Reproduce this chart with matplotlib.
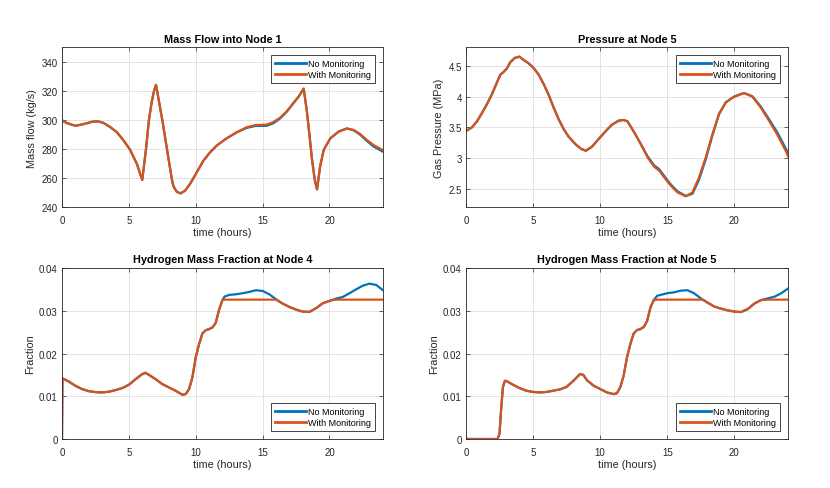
import matplotlib
matplotlib.use("Agg")
import matplotlib.pyplot as plt

plt.rcParams['font.family'] = ['Liberation Sans', 'DejaVu Sans']

# [1] mass flow into node 1
t1 = [0, 0.35, 1.0, 1.6, 2.3, 2.7, 3.1, 3.6, 4.1, 4.6, 5.1, 5.6, 6.0, 6.15, 6.28, 6.5,
      6.7, 6.88, 7.03, 7.5, 7.85, 8.2, 8.33, 8.58, 8.87, 9.2, 9.57, 10.07, 10.57,
      11.07, 11.56, 12.31, 13.06, 13.8, 14.5, 15.3, 15.8, 16.3, 16.8, 17.3, 17.7, 18.07,
      18.3, 18.5, 18.7, 18.9, 19.07, 19.3, 19.57, 20.07, 20.7, 21.3, 21.8, 22.3, 22.8,
      23.3, 24.0]
flow_with = [299.8, 298, 296, 297.2, 298.9, 299.1, 298, 295.2, 291.7, 286, 279.5, 269.8,
             258.8, 270, 280, 300, 312, 320, 324.2, 300, 280, 260, 254.5, 250.7,
             249.6, 251.4, 256, 264, 272, 277.8, 282.4, 287.4, 291.6, 295, 296.6, 296.8,
             298.6, 301.6, 306, 311.7, 316.2, 321.6, 306.9, 290, 272.5, 259, 252.3, 268,
             279.5, 287.5, 292.1, 294.2, 293.2, 290.4, 286.3, 282.8, 279.3]
flow_no = [299.8, 298, 296, 297.2, 298.9, 299.1, 298, 295.2, 291.7, 286, 279.5, 269.8,
           258.8, 270, 280, 300, 312, 320, 324.2, 300, 280, 260, 254.5, 250.7,
           249.6, 251.4, 256, 264, 272, 277.8, 282.4, 287.4, 291.5, 294.6, 296.0, 296.0,
           297.8, 301.0, 305.6, 311.5, 316.2, 321.6, 306.9, 290, 272.5, 259, 252.3, 268,
           279.5, 287.5, 292.1, 294.2, 293.0, 289.9, 285.6, 281.8, 278.2]

# [2] pressure at node 5
t2 = [0, 0.45, 0.82, 1.19, 1.57, 1.94, 2.31, 2.56, 2.81, 3.06, 3.3, 3.63, 3.98, 4.3,
      4.67, 5.04, 5.42, 5.79, 6.16, 6.53, 6.9, 7.28, 7.65, 8.15, 8.6, 8.94, 9.39, 9.89,
      10.38, 10.88, 11.38, 11.75, 12.04, 12.54, 13.03, 13.53, 14.03, 14.4, 14.77, 15.27,
      15.76, 16.38, 16.88, 17.37, 17.87, 18.37, 18.86, 19.36, 19.98, 20.72, 21.34, 21.96,
      22.58, 23.2, 23.87, 24]
pres_with = [3.44, 3.5, 3.597, 3.732, 3.878, 4.04, 4.23, 4.355, 4.40, 4.46, 4.556, 4.626,
             4.648, 4.594, 4.54, 4.464, 4.355, 4.203, 4.03, 3.824, 3.635, 3.472, 3.348,
             3.228, 3.147, 3.12, 3.185, 3.31, 3.43, 3.543, 3.608, 3.619, 3.597, 3.418,
             3.228, 3.012, 2.86, 2.795, 2.687, 2.551, 2.443, 2.378, 2.443, 2.687, 3.012,
             3.39, 3.716, 3.905, 3.998, 4.057, 3.998, 3.824, 3.608, 3.38, 3.10, 3.03]
pres_no = [3.44, 3.5, 3.597, 3.732, 3.878, 4.04, 4.23, 4.355, 4.40, 4.46, 4.556, 4.626,
           4.648, 4.594, 4.54, 4.464, 4.355, 4.203, 4.03, 3.824, 3.635, 3.472, 3.348,
           3.228, 3.147, 3.12, 3.185, 3.31, 3.43, 3.543, 3.608, 3.619, 3.597, 3.418,
           3.228, 3.03, 2.88, 2.82, 2.71, 2.57, 2.46, 2.385, 2.42, 2.65, 2.98,
           3.37, 3.716, 3.905, 3.998, 4.057, 4.005, 3.84, 3.635, 3.418, 3.14, 3.08]

# [3] hydrogen fraction at node 4
t3 = [0, 0.03, 0.5, 1, 1.5, 2, 2.5, 3, 3.5, 4, 4.5, 5, 5.5, 6, 6.25, 6.5, 7, 7.5, 8, 8.5,
      9, 9.25, 9.5, 9.75, 10, 10.25, 10.5, 10.75, 11, 11.25, 11.5, 11.75, 12, 12.15, 12.5,
      13, 13.5, 14, 14.5, 15, 15.5, 16, 16.5, 17, 17.5, 18, 18.5, 19, 19.5, 20, 20.3, 20.5,
      21, 21.5, 22, 22.5, 23, 23.5, 24]
h4_no = [0, 0.0142, 0.01346, 0.01245, 0.01167, 0.0112, 0.01097, 0.0109, 0.01105, 0.01144,
         0.0119, 0.01268, 0.0140, 0.01517, 0.01549, 0.0150, 0.0140, 0.01284, 0.01206,
         0.01128, 0.01035, 0.0105, 0.01167, 0.0144, 0.0191, 0.0222, 0.0247, 0.02545,
         0.0257, 0.0261, 0.0272, 0.0303, 0.0325, 0.0333, 0.0337, 0.03385, 0.0341, 0.0344,
         0.0348, 0.03463, 0.03385, 0.0327, 0.03167, 0.0309, 0.03027, 0.0298, 0.02973,
         0.0306, 0.03175, 0.0323, 0.0326, 0.03284, 0.03323, 0.0341, 0.03502, 0.03588,
         0.03634, 0.03603, 0.03479]
h4_with = [0, 0.0142, 0.01346, 0.01245, 0.01167, 0.0112, 0.01097, 0.0109, 0.01105, 0.01144,
           0.0119, 0.01268, 0.0140, 0.01517, 0.01549, 0.0150, 0.0140, 0.01284, 0.01206,
           0.01128, 0.01035, 0.0105, 0.01167, 0.0144, 0.0191, 0.0222, 0.0247, 0.02545,
           0.0257, 0.0261, 0.0272, 0.0303, 0.0325, 0.0326, 0.0326, 0.0326, 0.0326, 0.0326,
           0.0326, 0.0326, 0.0326, 0.0326, 0.03167, 0.0309, 0.03027, 0.0298, 0.02973,
           0.0306, 0.03175, 0.0323, 0.0326, 0.0326, 0.0326, 0.0326, 0.0326, 0.0326,
           0.0326, 0.0326, 0.0326]

# [4] hydrogen fraction at node 5
t4 = [0, 2.35, 2.5, 2.6, 2.75, 2.9, 3, 3.5, 4, 4.5, 5, 5.5, 6, 6.5, 7, 7.5, 8, 8.5, 8.75,
      9, 9.5, 10, 10.5, 11, 11.25, 11.5, 11.75, 12, 12.25, 12.5, 12.75, 13, 13.25, 13.5,
      13.75, 14, 14.25, 14.5, 15, 15.5, 16, 16.5, 17, 17.5, 17.65, 18, 18.5, 19, 19.5, 20,
      20.5, 21, 21.5, 22, 22.5, 23, 23.5, 24]
h5_no = [0, 0, 0.0012, 0.006, 0.0121, 0.0136, 0.0136, 0.0127, 0.0119, 0.0113, 0.0110,
         0.0109, 0.0110, 0.0113, 0.0116, 0.0122, 0.0136, 0.0152, 0.0150, 0.0138, 0.0125,
         0.0117, 0.0109, 0.0105, 0.0107, 0.0121, 0.0148, 0.0191, 0.0222, 0.0247, 0.0255,
         0.0257, 0.0262, 0.0276, 0.0308, 0.0325, 0.0335, 0.0337, 0.0341, 0.0343, 0.0347,
         0.0348, 0.0341, 0.0329, 0.0326, 0.0319, 0.0310, 0.0305, 0.0301, 0.0298, 0.0297,
         0.0304, 0.0317, 0.0325, 0.0329, 0.0333, 0.0341, 0.0352]
h5_with = [0, 0, 0.0012, 0.006, 0.0121, 0.0136, 0.0136, 0.0127, 0.0119, 0.0113, 0.0110,
           0.0109, 0.0110, 0.0113, 0.0116, 0.0122, 0.0136, 0.0152, 0.0150, 0.0138, 0.0125,
           0.0117, 0.0109, 0.0105, 0.0107, 0.0121, 0.0148, 0.0191, 0.0222, 0.0247, 0.0255,
           0.0257, 0.0262, 0.0276, 0.0308, 0.0325, 0.0326, 0.0326, 0.0326, 0.0326, 0.0326,
           0.0326, 0.0326, 0.0326, 0.0326, 0.0319, 0.0310, 0.0305, 0.0301, 0.0298, 0.0297,
           0.0304, 0.0317, 0.0325, 0.0326, 0.0326, 0.0326, 0.0326]

BLUE = '#0072BD'
ORANGE = '#D95319'
DARK = '#262626'

fig = plt.figure(figsize=(8.3, 4.89), dpi=100)
ax1 = fig.add_axes([0.0747, 0.5740, 0.3867, 0.3272])
ax2 = fig.add_axes([0.5614, 0.5740, 0.3880, 0.3272])
ax3 = fig.add_axes([0.0747, 0.1002, 0.3867, 0.3497])
ax4 = fig.add_axes([0.5614, 0.1002, 0.3880, 0.3497])

panels = [
    (ax1, t1, flow_no, flow_with, 'Mass Flow into Node 1', 'Mass flow (kg/s)', 'upper right'),
    (ax2, t2, pres_no, pres_with, 'Pressure at Node 5', 'Gas Pressure (MPa)', 'upper right'),
    (ax3, t3, h4_no, h4_with, 'Hydrogen Mass Fraction at Node 4', 'Fraction', 'lower right'),
    (ax4, t4, h5_no, h5_with, 'Hydrogen Mass Fraction at Node 5', 'Fraction', 'lower right'),
]

for ax, t, y_no, y_with, title, ylabel, loc in panels:
    ax.plot(t, y_no, color=BLUE, lw=1.6, label='No Monitoring')
    ax.plot(t, y_with, color=ORANGE, lw=1.6, label='With Monitoring')
    ax.set_xlim(0, 24)
    ax.set_xticks([0, 5, 10, 15, 20])
    ax.set_title(title, fontsize=7.8, fontweight='bold', color='black', pad=4)
    ax.set_xlabel('time (hours)', fontsize=7.8, color=DARK, labelpad=1.5)
    ax.set_ylabel(ylabel, fontsize=7.8, color=DARK, labelpad=3)
    ax.grid(True, color='#dedede', lw=0.6)
    ax.set_axisbelow(True)
    ax.tick_params(direction='in', length=3, width=0.5, labelsize=7, colors=DARK,
                   top=True, right=True)
    ax.tick_params(axis='x', pad=5.5)
    ax.tick_params(axis='y', pad=3)
    for s in ax.spines.values():
        s.set_color(DARK)
        s.set_linewidth(0.6)
    leg = ax.legend(loc=loc, fontsize=6.5, handlelength=3.4, fancybox=False,
                    borderpad=0.4, labelspacing=0.25, handletextpad=0.3,
                    borderaxespad=0.9, framealpha=1)
    leg.get_frame().set_edgecolor(DARK)
    leg.get_frame().set_linewidth(0.6)
    for ln in leg.get_lines():
        ln.set_linewidth(2.0)

ax1.set_ylim(240, 350)
ax1.set_yticks([240, 260, 280, 300, 320, 340])
ax2.set_ylim(2.2, 4.8)
ax2.set_yticks([2.5, 3, 3.5, 4, 4.5])
ax2.set_yticklabels(['2.5', '3', '3.5', '4', '4.5'])
for ax in (ax3, ax4):
    ax.set_ylim(0, 0.04)
    ax.set_yticks([0, 0.01, 0.02, 0.03, 0.04])
    ax.set_yticklabels(['0', '0.01', '0.02', '0.03', '0.04'])

fig.savefig('out.png', dpi=100)
